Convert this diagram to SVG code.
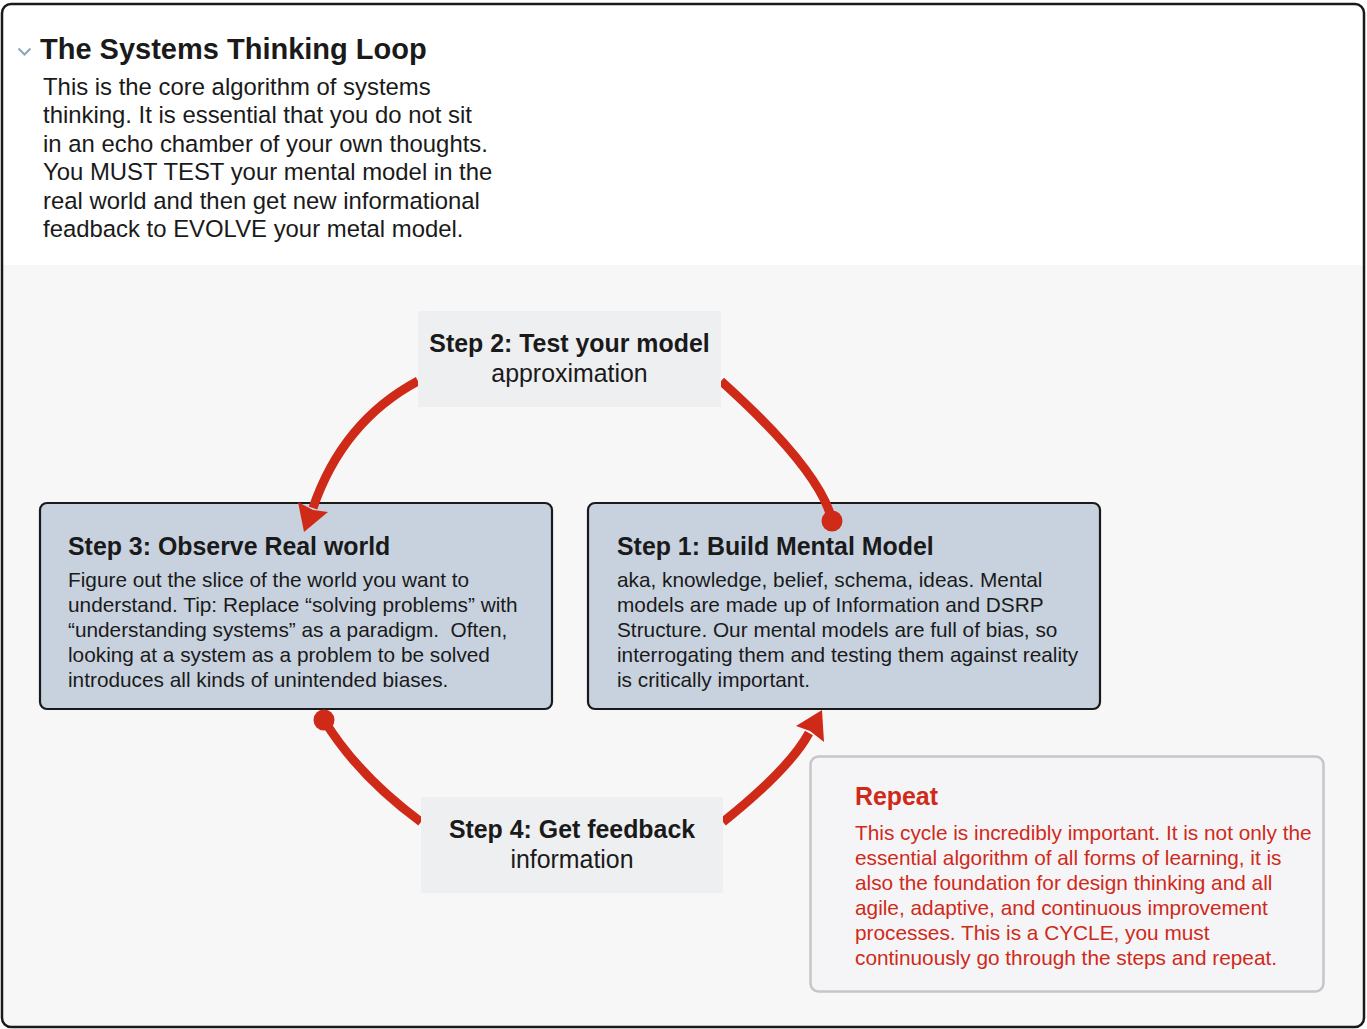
<svg xmlns="http://www.w3.org/2000/svg" width="1367" height="1029" viewBox="0 0 1367 1029">
<defs>
<style>
.t{font-family:"Liberation Sans",Arial,Helvetica,sans-serif;fill:#1a1a1a}
.b{font-weight:bold}
.step{fill:#c8d2df;stroke:#1a1a1a;stroke-width:2.2}
.lab{fill:#eeeff1}
.arc{fill:none;stroke:#cf2a18;stroke-width:9}
.red{fill:#cf2a18}
.body{font-size:20.8px}
</style>
<clipPath id="frame"><rect x="2" y="4" width="1362" height="1023" rx="9"/></clipPath>
</defs>
<g id="background">
<rect x="2" y="4" width="1362" height="1023" rx="9" fill="#ffffff"/>
<rect x="2" y="265" width="1362" height="762" fill="#f7f7f7" clip-path="url(#frame)"/>
<rect x="2" y="4" width="1362" height="1023" rx="9" fill="none" stroke="#1a1a1a" stroke-width="2.5"/>
</g>
<g id="header">
<path d="M18.5,48.5 L24.5,54.5 L30.5,48.5" fill="none" stroke="#8fa5b5" stroke-width="2"/>
<text class="t b" x="40" y="58.5" font-size="29">The Systems Thinking Loop</text>
<text class="t" font-size="23.9">
<tspan x="43" y="95">This is the core algorithm of systems</tspan>
<tspan x="43" y="123.4">thinking. It is essential that you do not sit</tspan>
<tspan x="43" y="151.8">in an echo chamber of your own thoughts.</tspan>
<tspan x="43" y="180.2">You MUST TEST your mental model in the</tspan>
<tspan x="43" y="208.6">real world and then get new informational</tspan>
<tspan x="43" y="237">feadback to EVOLVE your metal model.</tspan>
</text>
</g>
<g id="step3">
<rect class="step" x="40" y="503" width="512" height="206" rx="7"/>
<text class="t b" x="68" y="555" font-size="24.9">Step 3: Observe Real world</text>
<text class="t body">
<tspan x="68" y="587">Figure out the slice of the world you want to</tspan>
<tspan x="68" y="612">understand. Tip: Replace “solving problems” with</tspan>
<tspan x="68" y="637">“understanding systems” as a paradigm.&#160; Often,</tspan>
<tspan x="68" y="662">looking at a system as a problem to be solved</tspan>
<tspan x="68" y="687">introduces all kinds of unintended biases.</tspan>
</text>
</g>
<g id="step1">
<rect class="step" x="588" y="503" width="512" height="206" rx="7"/>
<text class="t b" x="617" y="555" font-size="24.9">Step 1: Build Mental Model</text>
<text class="t body">
<tspan x="617" y="587">aka, knowledge, belief, schema, ideas. Mental</tspan>
<tspan x="617" y="612">models are made up of Information and DSRP</tspan>
<tspan x="617" y="637">Structure. Our mental models are full of bias, so</tspan>
<tspan x="617" y="662">interrogating them and testing them against reality</tspan>
<tspan x="617" y="687">is critically important.</tspan>
</text>
</g>
<g id="connectors">
<path class="arc" d="M418,381 Q342.5,421.5 313,508"/>
<polygon class="red" points="304,532 298,502 313,510 328,512"/>
<path class="arc" d="M721,381 Q819.5,469.5 832,520"/>
<circle class="red" cx="832" cy="521" r="10.5"/>
<path class="arc" d="M324,720 Q357.5,775 421,822"/>
<circle class="red" cx="324" cy="720" r="10.5"/>
<path class="arc" d="M723,822 Q789.6,768.7 809,733"/>
<polygon class="red" points="822,710 796,726 810,731 824,742"/>
</g>
<g id="step2">
<rect class="lab" x="418" y="311" width="303" height="96"/>
<text class="t b" x="569.5" y="352" font-size="24.9" text-anchor="middle">Step 2: Test your model</text>
<text class="t" x="569.5" y="382" font-size="24.9" text-anchor="middle">approximation</text>
</g>
<g id="step4">
<rect class="lab" x="421" y="797" width="302" height="96"/>
<text class="t b" x="572" y="838" font-size="24.9" text-anchor="middle">Step 4: Get feedback</text>
<text class="t" x="572" y="868" font-size="24.9" text-anchor="middle">information</text>
</g>
<g id="repeat">
<rect x="810.5" y="756.5" width="513" height="235" rx="8" fill="#f5f5f8" stroke="#c6c6c8" stroke-width="2.5"/>
<text class="t b" x="855" y="805" font-size="24.9" style="fill:#cf2a18">Repeat</text>
<text class="t body" style="fill:#cf2a18">
<tspan x="855" y="839.5">This cycle is incredibly important. It is not only the</tspan>
<tspan x="855" y="864.5">essential algorithm of all forms of learning, it is</tspan>
<tspan x="855" y="889.5">also the foundation for design thinking and all</tspan>
<tspan x="855" y="914.5">agile, adaptive, and continuous improvement</tspan>
<tspan x="855" y="939.5">processes. This is a CYCLE, you must</tspan>
<tspan x="855" y="964.5">continuously go through the steps and repeat.</tspan>
</text>
</g>
</svg>
